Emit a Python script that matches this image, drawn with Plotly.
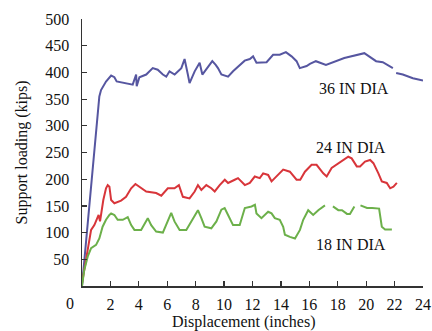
import plotly.graph_objects as go

# 36 IN DIA
x36 = [0, 0.75, 1.22, 1.34, 1.69, 2.05, 2.28, 2.44, 3.1, 3.57, 3.81, 3.85, 4.04, 4.52, 4.98, 5.33,
       5.69, 5.93, 6.16, 6.52, 6.99, 7.22, 7.45, 7.57, 7.93, 8.05, 8.28, 8.47, 8.86, 9.17, 9.41,
       9.57, 9.81, 10.28, 10.63, 11.1, 11.45, 11.81, 12.04, 12.28, 12.99, 13.45, 13.92, 14.35,
       14.75, 15.1, 15.33, 15.81, 16.04, 16.46, 17.17, 18.46, 19.87, 20.7, 21.17, 21.88, 22.0,
       22.11, 22.58, 23.29, 24.0]
y36 = [0, 217, 355, 367, 383, 394, 391, 383, 380, 377, 396, 374, 391, 396, 408, 405,
       396, 392, 402, 396, 408, 425, 396, 380, 402, 408, 418, 396, 411, 421, 414,
       408, 396, 392, 402, 414, 422, 425, 430, 418, 419, 433, 433, 438,
       430, 421, 408, 412, 416, 421, 414, 427, 436, 421, 419, 408, None,
       399, 396, 389, 385]

# 24 IN DIA
x24 = [0, 0.4, 0.64, 0.87, 1.1, 1.17, 1.27, 1.34, 1.5, 1.69, 1.81, 1.93, 2.05, 2.28, 2.75, 3.1,
       3.46, 3.76, 4.04, 4.52, 5.22, 5.58, 6.04, 6.51, 6.82, 7.1, 7.57, 7.93, 8.16, 8.4, 8.75,
       9.1, 9.34, 9.69, 10.05, 10.28, 10.75, 10.98, 11.46, 11.81, 12.16, 12.51, 12.75, 13.1,
       13.34, 13.8, 14.16, 14.63, 15.1, 15.36, 15.69, 16.16, 16.51, 16.98, 17.22, 17.57, 18.04,
       18.28, 18.74, 18.98, 19.34, 19.57, 19.92, 20.28, 20.51, 20.86, 21.1, 21.45, 21.69,
       21.92, 22.16]
y24 = [5, 67, 105, 114, 127, 133, 121, 136, 161, 183, 189, 186, 161, 155, 160, 167,
       183, 191, 186, 177, 174, 169, 183, 183, 189, 167, 164, 177, 189, 180, 189,
       183, 177, 189, 199, 193, 199, 202, 189, 193, 205, 202, 211, 208,
       196, 208, 218, 214, 199, 199, 214, 227, 227, 211, 205, 221, 230,
       233, 242, 239, 224, 224, 233, 236, 230, 211, 196, 193, 183,
       186, 193]

# 18 IN DIA
x18 = [0, 0.16, 0.4, 0.64, 0.99, 1.22, 1.45, 1.69, 1.93, 2.05, 2.28, 2.51, 2.87, 3.22, 3.46,
       3.69, 4.16, 4.63, 4.87, 5.22, 5.69, 6.28, 6.51, 6.87, 7.34, 7.81, 8.16, 8.4, 8.63,
       9.1, 9.46, 9.81, 10.04, 10.28, 10.63, 11.1, 11.46, 11.93, 12.17, 12.28, 12.63, 13.1,
       13.34, 13.57, 13.92, 14.16, 14.28, 14.63, 14.99, 15.34, 15.57, 15.92, 16.27, 16.63,
       17.1, 17.4, 17.66, 18.04, 18.3, 18.65, 18.86, 19.1, 19.17, 19.4, 19.6, 20.06, 20.42,
       20.91, 21.1, 21.33, 21.81]
y18 = [0, 30, 55, 71, 77, 89, 111, 124, 133, 136, 133, 124, 124, 129, 114,
       105, 105, 127, 114, 102, 100, 137, 121, 105, 105, 127, 142, 127, 111,
       108, 121, 143, 146, 133, 114, 114, 146, 149, 152, 136, 127, 139,
       136, 127, 124, 111, 96, 92, 89, 105, 124, 142, 133, 142,
       151, None, 149, 142, 142, 135, 135, 146, 149, None, 151, 146, 146,
       145, 111, 106, 106]

labels = ["36 IN DIA", "24 IN DIA", "18 IN DIA"]
label_x = [19.15, 18.9, 18.9]
label_y = [370, 259, 77]

x_ticks = list(range(2, 25, 2))
y_ticks = list(range(50, 501, 50))

FONT = "Liberation Serif, Times New Roman, serif"
FS = 16

fig = go.Figure()
fig.add_trace(go.Scatter(x=x36, y=y36, mode="lines", line=dict(color="#5656a0", width=2),
                         connectgaps=False, showlegend=False))
fig.add_trace(go.Scatter(x=x24, y=y24, mode="lines", line=dict(color="#d8353a", width=2),
                         connectgaps=False, showlegend=False))
fig.add_trace(go.Scatter(x=x18, y=y18, mode="lines", line=dict(color="#6cb04a", width=2),
                         connectgaps=False, showlegend=False))

for t, lx, ly in zip(labels, label_x, label_y):
    fig.add_annotation(x=lx, y=ly, text=t, showarrow=False,
                       font=dict(family=FONT, size=FS, color="#111"))

# origin label
fig.add_annotation(x=0, y=0, xref="x", yref="y", text="0", showarrow=False,
                   xshift=-12, yshift=-17, font=dict(family=FONT, size=FS, color="#111"))
# axis titles
fig.add_annotation(x=0.475, y=-0.134, xref="paper", yref="paper", text="Displacement (inches)",
                   showarrow=False, xanchor="center", yanchor="middle",
                   font=dict(family=FONT, size=FS, color="#111"))
fig.add_annotation(x=-0.176, y=0.5, xref="paper", yref="paper", text="Support loading (kips)",
                   showarrow=False, textangle=-90, xanchor="center", yanchor="middle",
                   font=dict(family=FONT, size=FS, color="#111"))

fig.update_layout(
    width=432, height=331,
    margin=dict(l=82, r=9, t=19, b=45),
    plot_bgcolor="white", paper_bgcolor="white",
    font=dict(family=FONT, size=FS, color="#111"),
    hovermode=False,
    xaxis=dict(range=[0, 24], tickvals=x_ticks, ticks="inside", ticklen=5, tickwidth=1.2,
               tickcolor="#333", showline=True, linecolor="#333", linewidth=1.5,
               showgrid=False, zeroline=False, automargin=False, ticklabelstandoff=3),
    yaxis=dict(range=[0, 500], tickvals=y_ticks, ticks="inside", ticklen=5, tickwidth=1.2,
               tickcolor="#333", showline=True, linecolor="#333", linewidth=1.5,
               showgrid=False, zeroline=False, automargin=False, ticklabelstandoff=8),
)

fig.write_html(
    "out.html",
    config={"displayModeBar": False, "staticPlot": True},
    post_script="document.body.style.margin='0';document.body.style.overflow='hidden';",
)
